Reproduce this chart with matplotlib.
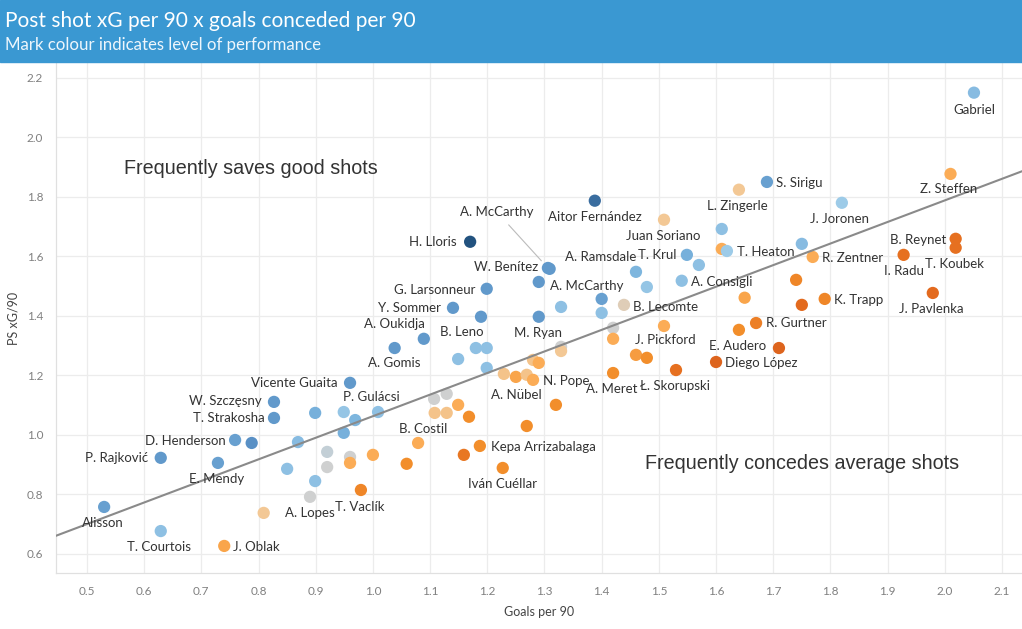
import numpy as np
import matplotlib
matplotlib.use("Agg")
import matplotlib.pyplot as plt
from matplotlib.colors import LinearSegmentedColormap

# goalkeepers: name ('' = unlabelled), goals conceded per 90, PSxG per 90, performance level (-1 .. 1)
names = [
    "Gabriel", "Z. Steffen", "S. Sirigu", "L. Zingerle", "J. Joronen", "Aitor Fernández",
    "Juan Soriano", "", "", "T. Heaton", "", "R. Zentner", "B. Reynet", "T. Koubek",
    "I. Radu", "J. Pavlenka", "K. Trapp", "", "", "", "R. Gurtner", "E. Audero", "",
    "Diego López", "J. Pickford", "B. Lecomte", "", "", "A. Consigli", "T. Krul", "",
    "A. Ramsdale", "", "", "", "", "", "Ł. Skorupski", "A. Meret", "W. Benítez",
    "A. McCarthy ", "A. McCarthy", "H. Lloris", "G. Larsonneur", "Y. Sommer", "", "M. Ryan",
    "", "A. Oukidja", "A. Gomis", "B. Leno", "", "", "", "", "", "", "", "", "A. Nübel",
    "", "N. Pope", "", "", "Kepa Arrizabalaga", "", "Iván Cuéllar", "Vicente Guaita", "",
    "", "", "P. Gulácsi", "", "W. Szczęsny", "T. Strakosha", "D. Henderson", "", "",
    "P. Rajković", "E. Mendy", "", "", "", "", "", "", "", "", "B. Costil", "", "", "",
    "", "", "", "", "T. Vaclík", "Alisson", "T. Courtois", "J. Oblak", "A. Lopes",
]
goals = [
    2.051, 2.010, 1.689, 1.640, 1.820, 1.388,
    1.509, 1.610, 1.610, 1.619, 1.750, 1.769, 2.019, 2.019,
    1.928, 1.979, 1.790, 1.740, 1.650, 1.750, 1.670, 1.640, 1.710,
    1.600, 1.509, 1.439, 1.400, 1.400, 1.540, 1.549, 1.570,
    1.460, 1.479, 1.420, 1.420, 1.460, 1.479, 1.530, 1.420, 1.309,
    1.306, 1.290, 1.170, 1.199, 1.140, 1.189, 1.290,
    1.329, 1.089, 1.038, 1.180, 1.199, 1.149, 1.199, 1.329, 1.329, 1.280, 1.290, 1.229, 1.250,
    1.269, 1.280, 1.320, 1.269, 1.187, 1.159, 1.227, 0.960, 0.899,
    0.949, 0.969, 1.009, 0.949, 0.827, 0.827, 0.759, 0.788, 0.869,
    0.629, 0.729, 0.850, 0.899, 0.920, 0.920, 0.960, 0.960, 1.000, 1.059, 1.079, 1.107, 1.129, 1.108,
    1.129, 1.149, 1.168, 0.890, 0.979, 0.530, 0.629, 0.740, 0.809,
]
psxg = [
    2.150, 1.877, 1.850, 1.824, 1.780, 1.787,
    1.723, 1.692, 1.625, 1.618, 1.642, 1.598, 1.659, 1.629,
    1.605, 1.477, 1.457, 1.521, 1.461, 1.437, 1.376, 1.353, 1.292,
    1.245, 1.366, 1.437, 1.457, 1.410, 1.518, 1.605, 1.571,
    1.548, 1.497, 1.360, 1.323, 1.269, 1.259, 1.218, 1.208, 1.558,
    1.561, 1.514, 1.649, 1.491, 1.427, 1.397, 1.397,
    1.430, 1.323, 1.292, 1.292, 1.292, 1.255, 1.225, 1.296, 1.282, 1.252, 1.242, 1.205, 1.195,
    1.202, 1.185, 1.101, 1.030, 0.963, 0.933, 0.889, 1.175, 1.074,
    1.077, 1.050, 1.077, 1.007, 1.111, 1.057, 0.983, 0.973, 0.976,
    0.923, 0.906, 0.886, 0.845, 0.943, 0.892, 0.926, 0.906, 0.933, 0.903, 0.973, 1.121, 1.138, 1.074,
    1.074, 1.101, 1.061, 0.792, 0.815, 0.758, 0.677, 0.627, 0.738,
]
perf = [
    0.35, -0.3, 0.55, -0.12, 0.2, 0.85,
    -0.12, 0.3, -0.3, 0.2, 0.35, -0.3, -0.7, -0.7,
    -0.7, -0.75, -0.55, -0.55, -0.35, -0.75, -0.6, -0.5, -0.8,
    -0.8, -0.3, -0.05, 0.55, 0.3, 0.3, 0.45, 0.3,
    0.4, 0.25, 0.0, -0.3, -0.4, -0.5, -0.7, -0.5, 0.6,
    0.6, 0.6, 1.0, 0.6, 0.6, 0.6, 0.6,
    0.3, 0.6, 0.6, 0.3, 0.3, 0.3, 0.3, 0.0, -0.12, -0.15, -0.3, -0.15, -0.35,
    -0.15, -0.3, -0.5, -0.5, -0.5, -0.65, -0.5, 0.6, 0.45,
    0.25, 0.4, 0.3, 0.45, 0.6, 0.6, 0.55, 0.65, 0.35,
    0.6, 0.55, 0.3, 0.3, 0.05, 0.0, 0.0, -0.3, -0.3, -0.5, -0.3, 0.0, 0.0, -0.15,
    -0.15, -0.3, -0.5, 0.0, -0.55, 0.55, 0.3, -0.35, -0.12,
]

x_ticks = [0.5, 0.6, 0.7, 0.8, 0.9, 1.0, 1.1, 1.2, 1.3, 1.4, 1.5, 1.6, 1.7, 1.8, 1.9, 2.0, 2.1]
y_ticks = [0.6, 0.8, 1.0, 1.2, 1.4, 1.6, 1.8, 2.0, 2.2]

title = "Post shot xG per 90 x goals conceded per 90"
subtitle = "Mark colour indicates level of performance"
note_top = "Frequently saves good shots"
note_bottom = "Frequently concedes average shots"

# label placement: offset in pixels from the mark and alignment
label_pos = {
    "Gabriel": (0, -17, "center"), "Z. Steffen": (-2, -15, "center"),
    "S. Sirigu": (9, -1, "left"), "L. Zingerle": (-2, -16, "center"),
    "J. Joronen": (-2, -16, "center"), "Aitor Fernández": (0, -16, "center"),
    "Juan Soriano": (-1, -16, "center"), "T. Heaton": (10, -1, "left"),
    "R. Zentner": (9, -1, "left"), "B. Reynet": (-9, -1, "right"),
    "T. Koubek": (-1, -16, "center"), "I. Radu": (0, -16, "center"),
    "J. Pavlenka": (-1, -16, "center"), "K. Trapp": (9, -1, "left"),
    "R. Gurtner": (10, 0, "left"), "E. Audero": (-1, -16, "center"),
    "Diego López": (9, -1, "left"), "J. Pickford": (1, -14, "center"),
    "B. Lecomte": (9, -2, "left"), "A. Consigli": (9, -1, "left"),
    "T. Krul": (-10, 0, "right"), "A. Ramsdale": (-35, 15, "center"),
    "A. McCarthy": (11, -4, "left"), "W. Benítez": (-11, 2, "right"),
    "H. Lloris": (-14, 0, "right"), "G. Larsonneur": (-11, -1, "right"),
    "Y. Sommer": (-12, 0, "right"), "A. Oukidja": (-29, 15, "center"),
    "A. Gomis": (0, -15, "center"), "B. Leno": (-14, 16, "center"),
    "M. Ryan": (-1, -16, "center"), "N. Pope": (10, -1, "left"),
    "A. Nübel": (0, -18, "center"), "A. Meret": (-1, -16, "center"),
    "Ł. Skorupski": (-1, -16, "center"), "Vicente Guaita": (-12, 0, "right"),
    "P. Gulácsi": (-7, 15, "center"), "W. Szczęsny": (-12, 1, "right"),
    "T. Strakosha": (-9, 0, "right"), "D. Henderson": (-9, -1, "right"),
    "P. Rajković": (-13, 0, "right"), "E. Mendy": (-1, -16, "center"),
    "Alisson": (-1, -16, "center"), "T. Courtois": (-2, -16, "center"),
    "J. Oblak": (9, -1, "left"), "A. Lopes": (21, 0, "left"),
    "T. Vaclík": (-1, -17, "center"), "B. Costil": (5, 14, "center"),
    "Kepa Arrizabalaga": (11, -1, "left"), "Iván Cuéllar": (0, -16, "center"),
}

cmap = LinearSegmentedColormap.from_list("perf", [
    (0.0, "#c9521c"), (0.12, "#e2681d"), (0.25, "#f28e2b"), (0.35, "#fbac56"),
    (0.44, "#f3c896"), (0.5, "#d0d0d0"), (0.6, "#9dcbe8"), (0.72, "#79b2dc"),
    (0.85, "#5289c0"), (1.0, "#22527f"),
])

fig = plt.figure(figsize=(10.22, 6.29), dpi=100)
fig.patches.append(plt.Rectangle((0, 0.9014), 1, 0.0986, transform=fig.transFigure,
                                 color="#3a98d2", zorder=0))
fig.text(0.005, 0.967, title, color="white", fontsize=15.0, family="Lato", va="center")
fig.text(0.005, 0.928, subtitle, color="#eef6fc", fontsize=12.1, family="Lato", va="center")

ax = fig.add_axes([0.0545, 0.089, 0.9455, 0.811])
ax.set_xlim(0.4453, 2.135)
ax.set_ylim(0.536, 2.25)

ax.scatter(goals, psxg, c=np.array(perf), cmap=cmap, vmin=-1, vmax=1, s=78,
           linewidths=0, zorder=3)

# linear trend line
slope, inter = np.polyfit(goals, psxg, 1)
xs = np.array(ax.get_xlim())
ax.plot(xs, slope * xs + inter, color="#8a8a8a", lw=1.5, zorder=4)

for n, gx, gy in zip(names, goals, psxg):
    key = n.strip()
    if not n:
        continue
    if n != key:
        # moved label with leader line
        ax.annotate(key, (gx, gy), xytext=(-51, 56), textcoords="offset pixels",
                    ha="center", va="center", fontsize=9.5, family="Lato", color="#333333",
                    arrowprops=dict(arrowstyle="-", color="#bbbbbb", lw=0.8,
                                    shrinkA=4, shrinkB=7), zorder=5)
        continue
    dx, dy, ha = label_pos[key]
    ax.annotate(key, (gx, gy), xytext=(dx, dy), textcoords="offset pixels",
                ha=ha, va="center", fontsize=9.5, family="Lato", color="#333333", zorder=5)

ax.text(0.5647, 1.894, note_top, fontsize=14.2, family="Liberation Sans",
        color="#333333", va="center")
ax.text(1.4755, 0.9025, note_bottom, fontsize=14.2,
        family="Liberation Sans", color="#333333", va="center")

ax.set_xticks(x_ticks)
ax.set_yticks(y_ticks)
ax.set_xticklabels([f"{t:.1f}" for t in x_ticks])
ax.set_yticklabels([f"{t:.1f}" for t in y_ticks])
ax.tick_params(length=0, labelsize=8.5, labelcolor="#808080", pad=9)
for lab in ax.get_xticklabels() + ax.get_yticklabels():
    lab.set_family("Lato")
ax.grid(True, color="#ececec", lw=0.9)
ax.set_axisbelow(True)
for s in ["top", "right"]:
    ax.spines[s].set_visible(False)
for s in ["left", "bottom"]:
    ax.spines[s].set_color("#e0e0e0")
    ax.spines[s].set_linewidth(0.9)

ax.set_xlabel("Goals per 90", fontsize=9, family="Lato", color="#444444", labelpad=7)
ax.set_ylabel("PS xG/90", fontsize=9, family="Lato", color="#444444", labelpad=5)

fig.savefig("out.png", dpi=100)
